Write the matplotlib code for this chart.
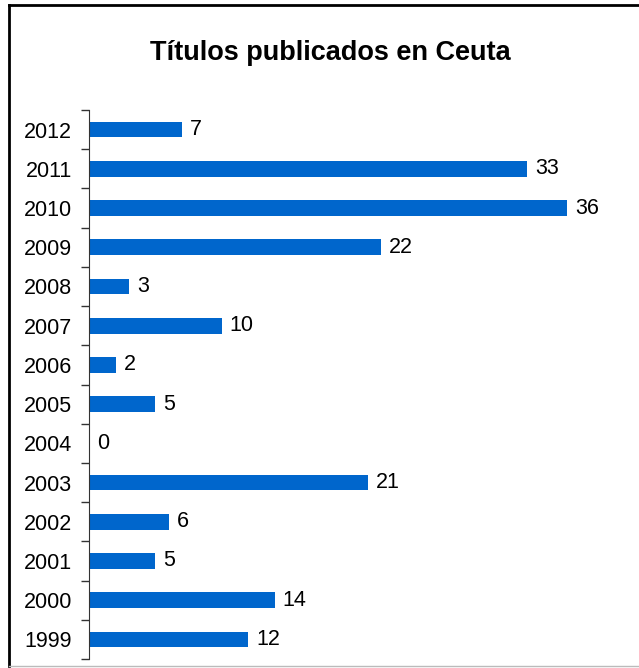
import matplotlib
matplotlib.use('Agg')
import matplotlib.pyplot as plt
from matplotlib.lines import Line2D
import numpy as np

plt.rcParams['font.family'] = ['Liberation Sans', 'DejaVu Sans']

# datos
years = ['1999', '2000', '2001', '2002', '2003', '2004', '2005',
         '2006', '2007', '2008', '2009', '2010', '2011', '2012']
titles = [12, 14, 5, 6, 21, 0, 5, 2, 10, 3, 22, 36, 33, 7]

BAR_COLOR = '#0066CC'

fig = plt.figure(figsize=(6.39, 6.68), dpi=100)
ax = fig.add_axes([89 / 639, 1 - 659 / 668, (620 - 89) / 639, (659 - 110) / 668])

y = np.arange(len(years))
ax.barh(y, titles, height=0.4, color=BAR_COLOR)

for yi, v in zip(y, titles):
    ax.text(v + 0.6, yi, str(v), va='center', ha='left', fontsize=15.5)

ax.set_xlim(0, 40)
ax.set_ylim(-0.5, len(years) - 0.5)
ax.set_yticks(y)
ax.set_yticklabels(years, fontsize=15.5)
ax.set_yticks(np.arange(-0.5, len(years), 1), minor=True)
ax.tick_params(axis='y', which='major', length=0, pad=12)
ax.tick_params(axis='y', which='minor', length=6, width=1, color='#333333')
ax.set_xticks([])
for s in ['top', 'right', 'bottom']:
    ax.spines[s].set_visible(False)
ax.spines['left'].set_color('#333333')

fig.text(330 / 639, 1 - 53 / 668, 'Títulos publicados en Ceuta',
         ha='center', va='center', fontsize=19.5, fontweight='bold')

# marco
fig.add_artist(Line2D([9 / 639, 9 / 639], [2 / 668, 1 - 5 / 668], color='black', lw=2))
fig.add_artist(Line2D([9 / 639, 1], [1 - 5 / 668, 1 - 5 / 668], color='black', lw=2))
fig.add_artist(Line2D([9 / 639, 1], [2 / 668, 2 / 668], color='#BBBBBB', lw=1))

fig.savefig('out.png', dpi=100)
